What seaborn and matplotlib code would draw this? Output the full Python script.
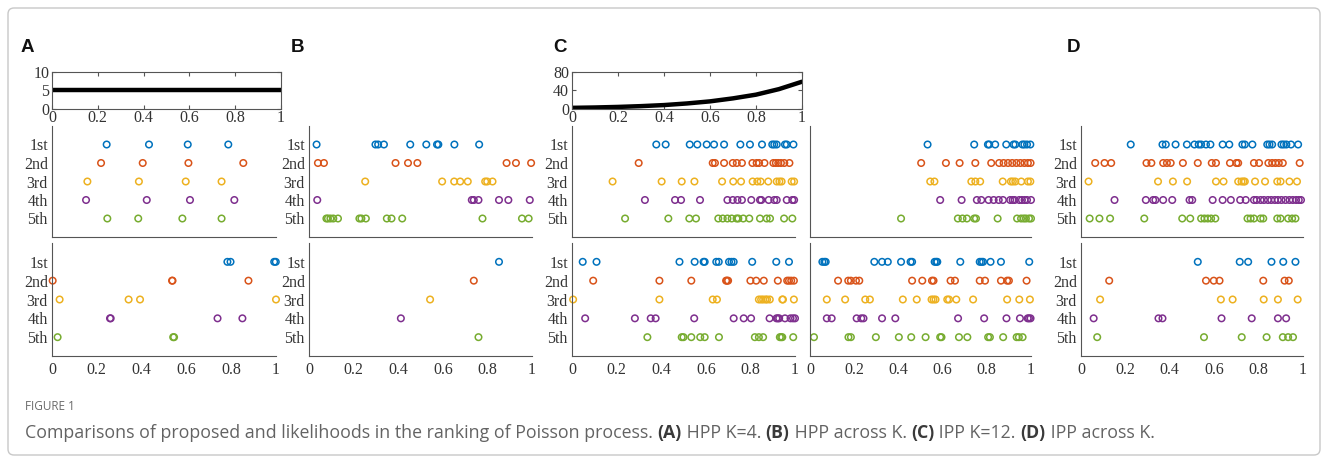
import matplotlib
matplotlib.use("Agg")
import matplotlib.pyplot as plt
from matplotlib.patches import FancyBboxPatch
import seaborn as sns
import pandas as pd

# ranks and MATLAB-like colours
ranks = ["1st", "2nd", "3rd", "4th", "5th"]
rank_colors = ["#0072BD", "#D95319", "#EDB120", "#7E2F8E", "#77AC30"]
x_ticks = [0, 0.2, 0.4, 0.6, 0.8, 1]
x_tick_labels = ["0", "0.2", "0.4", "0.6", "0.8", "1"]

# intensity functions
hpp_t = [0, 1]
hpp_rate = [5, 5]
ipp_t = [0, 0.1, 0.2, 0.3, 0.4, 0.5, 0.6, 0.7, 0.8, 0.9, 1.0]
ipp_rate = [2.5, 3.3, 4.5, 6.2, 8.5, 12, 16.5, 23, 31, 43, 59]

# event times per rank: (A) HPP K=4
a_prop = [[0.244, 0.433, 0.606, 0.787],
          [0.219, 0.405, 0.609, 0.854],
          [0.158, 0.388, 0.597, 0.757],
          [0.152, 0.423, 0.616, 0.814],
          [0.247, 0.385, 0.582, 0.757]]
a_lik = [[0.783, 0.797, 0.992, 0.999],
         [0.003, 0.536, 0.538, 0.877],
         [0.034, 0.342, 0.393, 1.0],
         [0.259, 0.262, 0.739, 0.850],
         [0.025, 0.541, 0.545]]

# (B) HPP across K
b_prop = [[0.034, 0.298, 0.310, 0.336, 0.454, 0.526, 0.574, 0.580, 0.652, 0.763],
          [0.040, 0.067, 0.388, 0.444, 0.486, 0.886, 0.928, 0.996],
          [0.252, 0.597, 0.651, 0.678, 0.712, 0.790, 0.799, 0.823],
          [0.037, 0.730, 0.739, 0.760, 0.852, 0.894, 0.990],
          [0.078, 0.085, 0.096, 0.109, 0.130, 0.226, 0.235, 0.255, 0.349,
           0.370, 0.418, 0.778, 0.955, 0.985]]
b_lik = [[0.852], [0.739], [0.543], [0.412], [0.760]]

# (C) IPP K=12, left and right columns
c_prop_l = [[0.378, 0.420, 0.528, 0.562, 0.604, 0.637, 0.682, 0.755, 0.798, 0.852,
             0.898, 0.907, 0.918, 0.955, 0.963, 0.993],
            [0.299, 0.631, 0.641, 0.682, 0.721, 0.739, 0.762, 0.809, 0.828, 0.839,
             0.863, 0.903, 0.914, 0.925, 0.937, 0.952, 0.975],
            [0.182, 0.402, 0.492, 0.549, 0.673, 0.723, 0.758, 0.810, 0.831, 0.846,
             0.880, 0.918, 0.930, 0.940, 0.985, 0.996],
            [0.327, 0.462, 0.489, 0.574, 0.697, 0.721, 0.742, 0.762, 0.804, 0.843,
             0.849, 0.882, 0.907, 0.918, 0.963, 0.988, 0.996],
            [0.238, 0.432, 0.526, 0.556, 0.656, 0.676, 0.697, 0.716, 0.738, 0.746,
             0.768, 0.795, 0.843, 0.873, 0.888, 0.951, 0.988]]
c_lik_l = [[0.048, 0.110, 0.482, 0.550, 0.590, 0.595, 0.647, 0.658, 0.704, 0.715,
            0.725, 0.808, 0.916, 0.973],
           [0.095, 0.392, 0.535, 0.691, 0.695, 0.700, 0.800, 0.826, 0.860, 0.923,
            0.965, 0.973, 0.983, 0.995],
           [0.005, 0.392, 0.631, 0.650, 0.838, 0.848, 0.857, 0.868, 0.875, 0.887,
            0.943, 0.946, 0.995],
           [0.059, 0.282, 0.353, 0.375, 0.548, 0.725, 0.770, 0.803, 0.886, 0.917,
            0.923, 0.929, 0.955, 0.980, 0.991, 1.0],
           [0.338, 0.492, 0.500, 0.535, 0.575, 0.595, 0.659, 0.820, 0.838, 0.857,
            0.932, 0.938, 0.943, 0.992]]
c_prop_r = [[0.532, 0.743, 0.805, 0.811, 0.838, 0.888, 0.921, 0.929, 0.961, 0.970,
             0.982, 0.997],
            [0.503, 0.615, 0.677, 0.748, 0.820, 0.856, 0.876, 0.896, 0.915, 0.934,
             0.952, 0.970, 0.986, 0.998],
            [0.544, 0.563, 0.730, 0.748, 0.770, 0.872, 0.909, 0.918, 0.929, 0.956,
             0.986, 0.997],
            [0.589, 0.686, 0.755, 0.775, 0.808, 0.831, 0.854, 0.873, 0.906, 0.917,
             0.926, 0.947, 0.959, 0.971, 0.982, 1.0],
            [0.412, 0.669, 0.690, 0.710, 0.743, 0.751, 0.849, 0.937, 0.955, 0.967,
             0.977, 0.991, 1.0]]
c_lik_r = [[0.056, 0.065, 0.071, 0.291, 0.326, 0.352, 0.412, 0.455, 0.462, 0.564,
            0.571, 0.576, 0.680, 0.768, 0.776, 0.783, 0.817, 0.864, 0.992],
           [0.127, 0.173, 0.185, 0.208, 0.223, 0.462, 0.508, 0.552, 0.559, 0.636,
            0.656, 0.768, 0.792, 0.864, 0.892, 0.900, 0.980],
           [0.076, 0.159, 0.250, 0.271, 0.420, 0.483, 0.550, 0.559, 0.568, 0.621,
            0.629, 0.662, 0.738, 0.892, 0.947, 0.995],
           [0.076, 0.098, 0.211, 0.232, 0.242, 0.326, 0.386, 0.670, 0.788, 0.889,
            0.950, 0.985, 0.991, 0.998],
           [0.018, 0.174, 0.185, 0.298, 0.402, 0.458, 0.523, 0.589, 0.595, 0.674,
            0.712, 0.806, 0.814, 0.874, 0.935, 0.945, 0.962]]

# (D) IPP across K
d_prop = [[0.224, 0.367, 0.382, 0.426, 0.477, 0.511, 0.530, 0.541, 0.563, 0.583,
           0.638, 0.668, 0.727, 0.738, 0.772, 0.839, 0.849, 0.861, 0.903, 0.913,
           0.925, 0.946, 0.978],
          [0.064, 0.106, 0.136, 0.295, 0.317, 0.370, 0.387, 0.404, 0.459, 0.526,
           0.589, 0.608, 0.671, 0.700, 0.708, 0.779, 0.802, 0.844, 0.861, 0.876,
           0.891, 0.909, 0.985],
          [0.034, 0.347, 0.414, 0.478, 0.608, 0.642, 0.708, 0.723, 0.732, 0.738,
           0.784, 0.829, 0.884, 0.899, 0.939, 0.973],
          [0.151, 0.292, 0.325, 0.335, 0.370, 0.411, 0.489, 0.501, 0.593, 0.638,
           0.675, 0.717, 0.742, 0.779, 0.791, 0.809, 0.824, 0.842, 0.857, 0.873,
           0.887, 0.903, 0.921, 0.939, 0.954, 0.969, 0.981, 0.991],
          [0.039, 0.083, 0.131, 0.285, 0.456, 0.492, 0.541, 0.556, 0.571, 0.586,
           0.605, 0.750, 0.764, 0.779, 0.809, 0.821, 0.884, 0.899, 0.933, 0.951,
           0.966]]
d_lik = [[0.526, 0.715, 0.753, 0.858, 0.911, 0.966],
         [0.127, 0.563, 0.598, 0.624, 0.821, 0.917, 0.936],
         [0.086, 0.630, 0.683, 0.823, 0.887, 0.976],
         [0.057, 0.349, 0.367, 0.633, 0.769, 0.887, 0.924],
         [0.073, 0.554, 0.724, 0.836, 0.909, 0.933, 0.955]]

sns.set_style("white")
plt.rcParams["font.family"] = "serif"
plt.rcParams["font.serif"] = ["Liberation Serif", "DejaVu Serif"]

W, H = 1328, 463
fig = plt.figure(figsize=(W / 100, H / 100), dpi=100)
AX_COL = "#555555"
LAB_COL = "#333333"
TICK_FONT = "Liberation Serif"


def px_box(x0, x1, y0, y1):
    return [x0 / W, 1 - y1 / H, (x1 - x0) / W, (y1 - y0) / H]


def style_ticks(ax):
    ax.tick_params(direction="in", length=3, width=0.8, color=AX_COL,
                   labelcolor=LAB_COL, labelsize=11.5, pad=2)
    for sp in ax.spines.values():
        sp.set_color(AX_COL)
        sp.set_linewidth(0.8)
    for lab in ax.get_xticklabels() + ax.get_yticklabels():
        lab.set_fontfamily(TICK_FONT)


def rate_panel(box, t, rate, yticks):
    ax = fig.add_axes(px_box(*box))
    sns.lineplot(x=t, y=rate, color="black", linewidth=3.2, ax=ax)
    ax.set_xlim(0, 1)
    ax.set_ylim(yticks[0], yticks[-1])
    ax.set_xticks(x_ticks)
    ax.set_xticklabels(x_tick_labels)
    ax.set_yticks(yticks)
    ax.set_yticklabels([str(v) for v in yticks])
    style_ticks(ax)
    ax.tick_params(top=True, right=True, bottom=True, left=True)
    ax.tick_params(axis="x", pad=1)
    return ax


def event_panel(box, rows, ylabels=True, xlabels=False):
    ax = fig.add_axes(px_box(*box))
    df = pd.DataFrame({
        "t": [v for r in rows for v in r],
        "rank": [ranks[i] for i, r in enumerate(rows) for _ in r],
    })
    df["pos"] = df["rank"].map({r: i + 1 for i, r in enumerate(ranks)})
    sns.scatterplot(data=df, x="t", y="pos", hue="rank", hue_order=ranks,
                    palette=rank_colors, s=22, legend=False, ax=ax)
    for coll in ax.collections:
        fc = coll.get_facecolors()
        coll.set_edgecolors(fc)
        coll.set_facecolors("none")
        coll.set_linewidths(1.1)
        coll.set_clip_on(False)
    ax.set_xlim(0, 1)
    ax.set_ylim(6, 0)
    ax.set_xlabel("")
    ax.set_ylabel("")
    ax.set_yticks(range(7))
    ax.set_yticklabels([""] + ranks + [""] if ylabels else [""] * 7)
    ax.set_xticks(x_ticks)
    ax.set_xticklabels(x_tick_labels if xlabels else [""] * 6)
    ax.spines["top"].set_visible(False)
    ax.spines["right"].set_visible(False)
    style_ticks(ax)
    ax.tick_params(axis="x", pad=4)
    ax.tick_params(axis="y", pad=3)
    return ax


# panel A
rate_panel((52, 281, 72, 109), hpp_t, hpp_rate, [0, 5, 10])
event_panel((52, 276, 126, 237), a_prop)
event_panel((52, 276, 243, 356), a_lik, xlabels=True)
# panel B
event_panel((309, 532, 126, 237), b_prop)
event_panel((309, 532, 243, 356), b_lik, xlabels=True)
# panel C
rate_panel((572, 802, 72, 109), ipp_t, ipp_rate, [0, 40, 80])
event_panel((572, 795, 126, 237), c_prop_l)
event_panel((572, 795, 243, 356), c_lik_l, xlabels=True)
event_panel((810, 1031, 126, 237), c_prop_r, ylabels=False)
event_panel((810, 1031, 243, 356), c_lik_r, ylabels=False, xlabels=True)
# panel D
event_panel((1081, 1303, 126, 237), d_prop)
event_panel((1081, 1303, 243, 356), d_lik, xlabels=True)

# panel letters
for letter, xp in zip("ABCD", [27, 297, 560, 1073]):
    fig.text(xp / W, 1 - 47 / H, letter, fontsize=13.5, fontweight="bold",
             family="Liberation Sans", ha="center", va="center", color="#111111")

# frame around the figure
frame = FancyBboxPatch((0.08, 0.08), 13.12, 4.47,
                       boxstyle="round,pad=0,rounding_size=0.06",
                       transform=fig.dpi_scale_trans, facecolor="none",
                       edgecolor="#c8c8c8", linewidth=1.0)
fig.patches.append(frame)

# caption
fig.text(25 / W, 1 - 407 / H, "FIGURE 1", fontsize=8.5, family="Open Sans",
         color="#6b6b6b", ha="left", va="center")
caption_parts = [
    ("Comparisons of proposed and likelihoods in the ranking of Poisson process. ", "normal"),
    ("(A)", "bold"), (" HPP K=4. ", "normal"),
    ("(B)", "bold"), (" HPP across K. ", "normal"),
    ("(C)", "bold"), (" IPP K=12. ", "normal"),
    ("(D)", "bold"), (" IPP across K.", "normal"),
]
renderer = fig.canvas.get_renderer()
xpos = 25
for txt, wt in caption_parts:
    t = fig.text(xpos / W, 1 - 433 / H, txt, fontsize=12.8, family="Open Sans",
                 fontweight=wt, color="#636363" if wt == "normal" else "#3a3a3a",
                 ha="left", va="center")
    xpos += t.get_window_extent(renderer).width

fig.savefig("out.png", dpi=100)
